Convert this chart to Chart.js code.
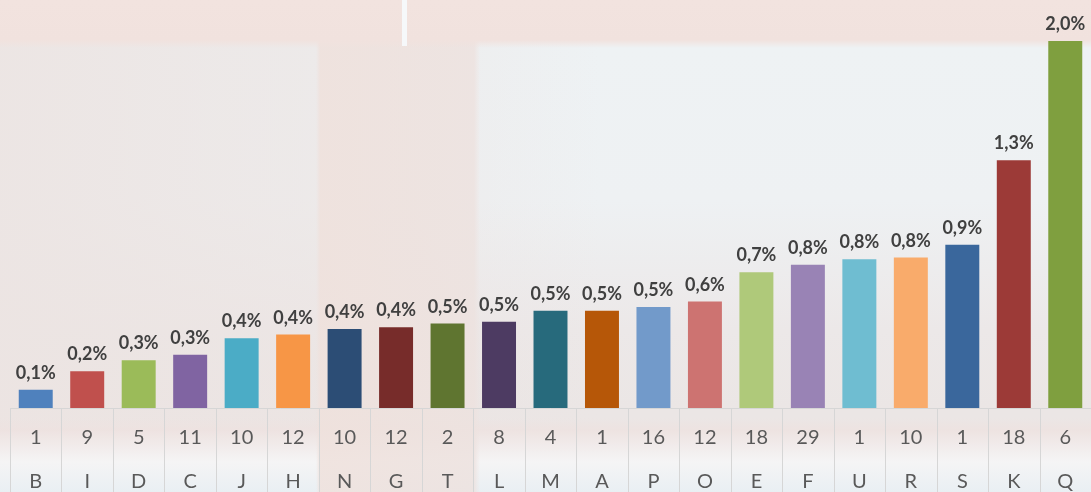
<!DOCTYPE html>
<html>
<head>
<meta charset="utf-8">
<script src="https://cdn.jsdelivr.net/npm/chart.js@4.4.0/dist/chart.umd.min.js"></script>
<style>
  html, body { margin: 0; padding: 0; }
  body {
    width: 1091px; height: 492px; overflow: hidden; position: relative;
    background:
      linear-gradient(180deg, #f2e3df 0px, #f1e2de 40px, rgba(242,226,222,0) 48px),
      linear-gradient(90deg, rgba(0,0,0,0) 316px, rgba(239,225,220,0.85) 320px, rgba(237,226,223,0.85) 474px, rgba(0,0,0,0) 480px),
      linear-gradient(180deg, rgba(0,0,0,0) 0px, rgba(0,0,0,0) 418px, rgba(238,226,224,0.8) 430px, rgba(246,246,247,0.9) 462px, #e9eff3 492px),
      linear-gradient(90deg, rgba(236,228,226,0.9) 0px, rgba(236,228,226,0.6) 300px, rgba(236,228,226,0) 600px),
      linear-gradient(180deg, #eef2f4 48px, #eef1f3 200px, #ece8e8 330px, #ebe6e5 408px);
  }
  #wline { position: absolute; left: 402px; top: 0; width: 5px; height: 46px; background: #f6f8fa; }
  #wrap { position: absolute; left: 0; top: 0; width: 1091px; height: 492px; }
</style>
</head>
<body>
<div id="wline"></div>
<div id="wrap"><canvas id="chart" width="1091" height="492"></canvas></div>
<script>
var letters = ["B","I","D","C","J","H","N","G","T","L","M","A","P","O","E","F","U","R","S","K","Q"];
var counts = ["1","9","5","11","10","12","10","12","2","8","4","1","16","12","18","29","1","10","1","18","6"];
var values = [0.10, 0.20, 0.26, 0.29, 0.38, 0.40, 0.43, 0.44, 0.46, 0.47, 0.53, 0.53, 0.55, 0.58, 0.74, 0.78, 0.81, 0.82, 0.89, 1.35, 2.0];
var valueLabels = ["0,1%","0,2%","0,3%","0,3%","0,4%","0,4%","0,4%","0,4%","0,5%","0,5%","0,5%","0,5%","0,5%","0,6%","0,7%","0,8%","0,8%","0,8%","0,9%","1,3%","2,0%"];
var barColors = ["#4f81bd","#c0504d","#9bbb59","#8064a2","#4bacc6","#f79646","#2c4d75","#772c2a","#5f7530","#4d3b62",
                 "#276a7c","#b65708","#729aca","#cd7371","#afc97a","#9983b5","#6fbdd1","#f9ab6b","#3a679c","#9c3a37","#7f9f3f"];

var tickLabels = [];
for (var i = 0; i < letters.length; i++) {
  tickLabels.push([counts[i], letters[i]]);
}

// values above bars
var barLabels = {
  id: 'barLabels',
  afterDatasetsDraw: function(chart) {
    var ctx = chart.ctx;
    var meta = chart.getDatasetMeta(0);
    ctx.save();
    ctx.font = "bold 18px Lato";
    ctx.fillStyle = "#404040";
    ctx.textAlign = "center";
    ctx.textBaseline = "alphabetic";
    meta.data.forEach(function(bar, i) {
      ctx.fillText(valueLabels[i], bar.x, bar.y - 11);
    });
    ctx.restore();
  }
};

// table grid under the bars
var tableLines = {
  id: 'tableLines',
  beforeDatasetsDraw: function(chart) {
    var ctx = chart.ctx;
    var x = chart.scales.x;
    var area = chart.chartArea;
    var half = (x.getPixelForValue(1) - x.getPixelForValue(0)) / 2;
    ctx.save();
    ctx.strokeStyle = "#d6d6d6";
    ctx.lineWidth = 1;
    ctx.beginPath();
    ctx.moveTo(area.left, Math.round(area.bottom) + 0.5);
    ctx.lineTo(area.right, Math.round(area.bottom) + 0.5);
    for (var i = 0; i <= letters.length; i++) {
      var px = Math.round(x.getPixelForValue(i) - half) + 0.5;
      ctx.moveTo(px, area.bottom);
      ctx.lineTo(px, chart.height);
    }
    ctx.stroke();
    ctx.restore();
  }
};

new Chart(document.getElementById("chart"), {
  type: 'bar',
  data: {
    labels: tickLabels,
    datasets: [{
      data: values,
      backgroundColor: barColors,
      borderWidth: 0,
      categoryPercentage: 1.0,
      barPercentage: 0.66
    }]
  },
  options: {
    responsive: false,
    animation: false,
    layout: { padding: { left: 10, right: 0, top: 41, bottom: 0 } },
    plugins: { legend: { display: false }, tooltip: { enabled: false } },
    scales: {
      x: {
        grid: { display: false },
        border: { display: false },
        ticks: {
          padding: 0,
          color: "#595959",
          font: { family: "Lato", size: 20, lineHeight: 2.2 },
          maxRotation: 0,
          autoSkip: false
        },
        afterFit: function(s) { s.height = 84; }
      },
      y: { display: false, min: 0, max: 2.0 }
    }
  },
  plugins: [tableLines, barLabels]
});
</script>
</body>
</html>
